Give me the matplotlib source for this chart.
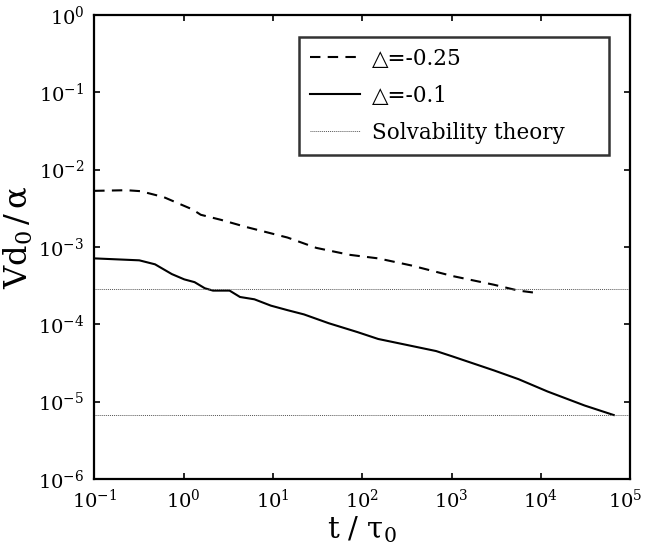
import matplotlib
matplotlib.use("Agg")
import matplotlib.pyplot as plt
import matplotlib.transforms as mtransforms
import numpy as np

# Delta = -0.25 (dashed)
t_025 = [0.1, 0.23, 0.33, 0.6, 0.92, 1.26, 1.56, 2.65, 5.0, 14.6, 30.7, 72.0, 151, 355, 1023, 2985, 5620, 8710]
v_025 = [5.3e-3, 5.4e-3, 5.25e-3, 4.4e-3, 3.56e-3, 3.05e-3, 2.6e-3, 2.23e-3, 1.81e-3, 1.32e-3, 9.7e-4, 7.9e-4, 7.1e-4, 5.75e-4, 4.2e-4, 3.24e-4, 2.72e-4, 2.55e-4]

# Delta = -0.1 (solid)
t_01 = [0.1, 0.32, 0.48, 0.74, 1.02, 1.33, 1.73, 2.14, 3.28, 4.29, 6.22, 9.5, 14.6, 22.3, 42.3, 89, 151, 355, 673, 1023, 2985, 5620, 11900, 30900, 65500]
v_01 = [7.1e-4, 6.7e-4, 5.95e-4, 4.45e-4, 3.8e-4, 3.5e-4, 2.92e-4, 2.72e-4, 2.72e-4, 2.25e-4, 2.1e-4, 1.74e-4, 1.52e-4, 1.34e-4, 1.03e-4, 7.9e-5, 6.45e-5, 5.25e-5, 4.5e-5, 3.84e-5, 2.53e-5, 1.95e-5, 1.35e-5, 8.9e-6, 6.7e-6]

# solvability theory levels
solv_levels = [2.84e-4, 6.76e-6]

plt.rcParams['font.family'] = ['DejaVu Serif']
plt.rcParams['mathtext.fontset'] = 'dejavuserif'

fig = plt.figure(figsize=(6.45, 5.48), dpi=100)
ax = fig.add_axes([0.146, 0.126, 0.831, 0.847])

ax.plot(t_025, v_025, color='black', linestyle=(0, (5, 3.5)), linewidth=1.5, label='\u25B3=-0.25')
ax.plot(t_01, v_01, color='black', linestyle='-', linewidth=1.5, label='\u25B3=-0.1')
for i, lev in enumerate(solv_levels):
    ax.axhline(lev, color='#555555', linestyle=(0, (1, 1)), linewidth=0.7,
               label='Solvability theory' if i == 0 else None)

ax.set_xscale('log')
ax.set_yscale('log')
ax.set_xlim(1e-1, 1e5)
ax.set_ylim(1e-6, 1e0)
ax.set_xticks([10.0 ** k for k in range(-1, 6)])
ax.set_yticks([10.0 ** k for k in range(-6, 1)])
ax.minorticks_off()
ax.tick_params(which='major', direction='in', length=4, width=1.2, labelsize=14,
               top=True, right=True, pad=7)
for s in ax.spines.values():
    s.set_linewidth(1.6)

# nudge the last x label so it stays inside the figure
last = ax.get_xticklabels()[-1]
last.set_transform(last.get_transform() + mtransforms.ScaledTranslation(-5 / 100, 0, fig.dpi_scale_trans))

ax.set_xlabel(r'$\mathrm{t\ /\ \tau_0}$', fontsize=21, labelpad=2)
ax.set_ylabel(r'$\mathrm{Vd_0\,/\,\alpha}$', fontsize=23)
ax.yaxis.set_label_coords(-0.11, 0.52)

leg = ax.legend(loc='upper left', bbox_to_anchor=(0.383, 0.701, 0.577, 0.251), mode='expand',
                fontsize=15.5, frameon=True, fancybox=False, edgecolor='black', handlelength=2.3,
                borderpad=0.5, labelspacing=0.7, handletextpad=0.55, borderaxespad=0)
leg.get_frame().set_linewidth(1.8)

plt.savefig('out.png', dpi=100)
